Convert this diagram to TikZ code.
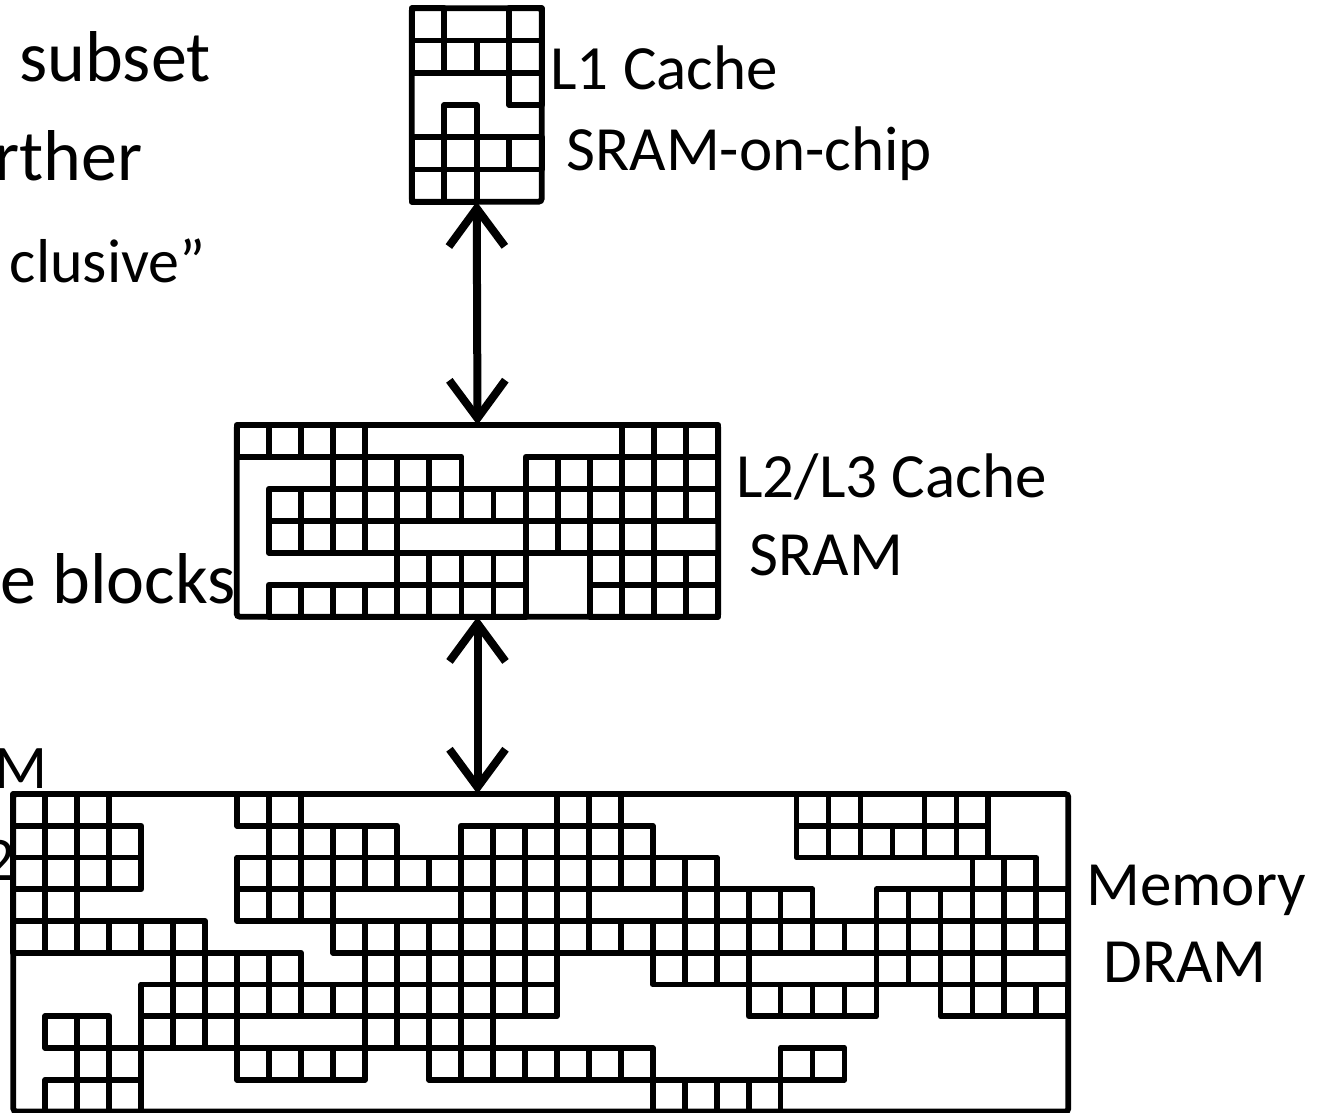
\documentclass[tikz,border=0pt]{standalone}
\usepackage{fontspec}
\setmainfont{Carlito}
\usetikzlibrary{arrows.meta}
\begin{document}
\begin{tikzpicture}[x=0.5pt,y=-0.5pt,
  cellline/.style={line width=2.9pt, line join=round, line cap=round},
  gridbox/.style={draw, line width=2.9pt, rectangle, inner sep=0pt, outer sep=0pt, anchor=north west, rounded corners=1.5pt},
  lbl/.style={inner sep=0pt, anchor=base west, font=\fontsize{31.5pt}{36pt}\selectfont},
  lefttxt/.style={inner sep=0pt, anchor=base east, font=\fontsize{36pt}{42pt}\selectfont},
  leftsmall/.style={inner sep=0pt, anchor=base east, font=\fontsize{31pt}{36pt}\selectfont},
  dbl/.style={line width=4pt, {Straight Barb[length=19pt,width=28pt]}-{Straight Barb[length=19pt,width=28pt]}}
]
\useasboundingbox (0,0) rectangle (1323,1113);
\clip (0,0) rectangle (1323,1113);

% ---------- L1 cache cells ----------
\def\ax{411.7}\def\ay{8.3}\def\aw{32.5}\def\ah{32.23}
\foreach \r/\cols in {0/{0,3},1/{0,1,2,3},2/{3},3/{1},4/{0,1,2,3},5/{0,1}}{
  \foreach \c in \cols {
    \draw[cellline] ({\ax+\c*\aw},{\ay+\r*\ah}) rectangle ++(\aw,\ah);
  }
}
\node[gridbox, minimum width=65pt, minimum height=96.7pt] (l1) at (411.7,8.3) {};

% ---------- L2/L3 cache cells ----------
\def\bx{236.7}\def\by{425}\def\bw{32.107}\def\bh{31.95}
\foreach \r/\cols in {0/{0,1,2,3,12,13,14},
  1/{3,4,5,6,9,10,11,12,13,14},
  2/{1,2,3,4,5,6,7,8,9,10,11,12,13,14},
  3/{1,2,3,4,9,10,11,12},
  4/{5,6,7,8,11,12,13,14},
  5/{1,2,3,4,5,6,7,8,11,12,13,14}}{
  \foreach \c in \cols {
    \draw[cellline] ({\bx+\c*\bw},{\by+\r*\bh}) rectangle ++(\bw,\bh);
  }
}
\node[gridbox, minimum width=240.8pt, minimum height=95.85pt] (l2) at (236.7,425) {};

% ---------- Memory cells ----------
\def\mx{13.3}\def\my{794}\def\mw{31.97}\def\mh{31.75}
\foreach \r/\cols in {0/{0,1,2,7,8,17,18,24.5,25.5,28.5,29.5},
  1/{0,1,2,3,8,9,10,11,14,15,16,17,18,19,24.5,25.5,26.5,27.5,28.5,29.5},
  2/{0,1,2,3,7,8,9,10,11,12,13,14,15,16,17,18,19,20,21,30,31},
  3/{0,1,7,8,9,14,15,16,17,21,22,23,24,27,28,29,30,31,32},
  4/{0,1,2,3,4,5,10,11,12,13,14,15,16,17,18,19,20,21,22,23,24,25,26,27,28,29,30,31,32},
  5/{5,6,7,8,11,12,13,14,15,16,20,21,22,27,28,29,30},
  6/{4,5,6,7,8,9,10,11,12,13,14,15,16,23,24,25,26,29,30,31,32},
  7/{1,2,4,5,6,11,12,13,14},
  8/{2,3,7,8,9,10,13,14,15,16,17,18,19,24,25},
  9/{1,2,3,20,21,22,23}}{
  \foreach \c in \cols {
    \draw[cellline] ({\mx+\c*\mw},{\my+\r*\mh}) rectangle ++(\mw,\mh);
  }
}
\node[gridbox, minimum width=527.5pt, minimum height=158.75pt] (mem) at (13.3,794) {};

% ---------- connectors ----------
\coordinate (memtop) at (l2.south |- mem.north);
\draw[dbl] (l1.south) -- (l2.north);
\draw[dbl] (l2.south) -- (memtop);

% ---------- labels ----------
\node[lbl] (t1) at (550,90) {L1 Cache};
\node[lbl] (t2) at (566,170) {SRAM-on-chip};
\node[lbl] (t3) at (736,497) {L2/L3 Cache};
\node[lbl] (t4) at (749,575) {SRAM};
\node[lbl] (t5) at (1086,905) {Memory};
\node[lbl] (t6) at (1103,982) {DRAM};

% ---------- cut-off left texts ----------
\node[lefttxt] (s1) at (211,82) {subset};
\node[lefttxt] (s2) at (143,180) {rther};
\node[leftsmall] (s3) at (206,282) {clusive”};
\node[lefttxt] (s4) at (236,603) {e blocks};
\node[leftsmall] (s5) at (48,788) {M};
\node[leftsmall] (s6) at (15,880) {2};
\end{tikzpicture}
\end{document}
